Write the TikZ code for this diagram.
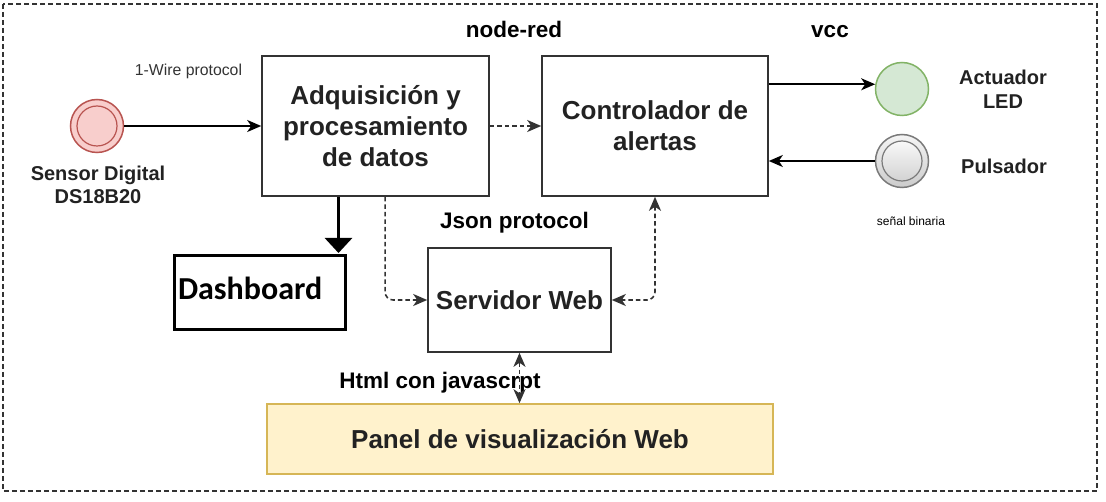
\documentclass[tikz,border=0pt]{standalone}
\usepackage{fontspec}
\setmainfont{Liberation Sans}
\newfontfamily\carlito{Carlito}
\usetikzlibrary{arrows.meta,calc,shapes.geometric}
\definecolor{boxtext}{HTML}{222222}
\definecolor{linec}{HTML}{333333}
\definecolor{redfill}{HTML}{F8CECC}
\definecolor{redline}{HTML}{B85450}
\definecolor{greenfill}{HTML}{D5E8D4}
\definecolor{greenline}{HTML}{82B366}
\definecolor{yelfill}{HTML}{FFF2CC}
\definecolor{yelline}{HTML}{D6B656}
\definecolor{grayline}{HTML}{7A7A7A}
\tikzset{
  procbox/.style={draw=linec, line width=1.6pt, fill=white, inner sep=0pt, align=center,
    text=boxtext, font=\fontsize{26}{31}\selectfont\bfseries},
  lbl/.style={inner sep=0pt, anchor=base, font=\fontsize{22.5}{26}\selectfont\bfseries, text=black},
  small/.style={inner sep=0pt, anchor=base, text=linec},
  side/.style={inner sep=0pt, align=center, text=boxtext, font=\fontsize{20}{22.5}\selectfont\bfseries},
  tip/.style={-{Stealth[length=14pt,width=12pt,inset=4pt]}},
  solidarrow/.style={line width=1.8pt, draw=black, tip},
  dasharrow/.style={line width=1.6pt, draw=linec, dash pattern=on 4.5pt off 3pt, tip},
  dashboth/.style={line width=1.6pt, draw=linec, dash pattern=on 4.5pt off 3pt,
    {Stealth[length=14pt,width=12pt,inset=4pt]}-{Stealth[length=14pt,width=12pt,inset=4pt]}},
  circ/.style={circle, minimum size=53pt, inner sep=0pt, line width=1.5pt}
}
\begin{document}
\begin{tikzpicture}[x=1pt,y=-1pt]
\useasboundingbox (0,0) rectangle (1106,502);
% outer frame
\draw[linec, line width=1.5pt, dash pattern=on 5pt off 3pt] (3,4) rectangle (1097,491);

% main boxes
\node[procbox, minimum width=227pt, minimum height=140pt] (adq) at (375.5,126)
  {Adquisición y\\procesamiento\\de datos};
\node[procbox, minimum width=226pt, minimum height=140pt] (ctrl) at (655,126)
  {Controlador de\\alertas};
\node[procbox, minimum width=183pt, minimum height=104pt] (srv) at (519.5,300)
  {Servidor Web};
\node[procbox, draw=yelline, fill=yelfill, minimum width=506pt, minimum height=70pt] (panel) at (520,439)
  {Panel de visualización Web};
\node[draw=black, line width=3pt, fill=white, minimum width=171pt, minimum height=74pt,
  inner xsep=4pt, inner ysep=0pt, text width=163pt, align=left, text height=22pt, text depth=8pt,
  font=\carlito\fontsize{32}{36}\selectfont\bfseries] (dash) at (259.5,293) {Dashboard};

% sensor
\node[circ, draw=redline, fill=redfill] (sen) at (97,126) {};
\node[circle, minimum size=40pt, inner sep=0pt, draw=redline, line width=1.2pt] (seninner) at (sen.center) {};
\node[side] (senlbl) at (98,184.75) {Sensor Digital\\DS18B20};

% actuador
\node[circ, draw=greenline, fill=greenfill] (act) at (902,89) {};
\node[side, font=\fontsize{20}{24}\selectfont\bfseries] (actlbl) at (1003,89.75) {Actuador\\LED};

% pulsador
\node[circ, draw=grayline, top color=gray!8, bottom color=gray!40] (pul) at (902,161) {};
\node[circle, minimum size=40pt, inner sep=0pt, draw=grayline, line width=1.2pt,
  top color=gray!5, bottom color=gray!35] (pulinner) at (pul.center) {};
\node[side, anchor=base] (pullbl) at (1004,174) {Pulsador};

% labels
\node[lbl] (nodered) at (514,38) {node-red};
\node[lbl] (vcc) at (830,38) {vcc};
\node[lbl] (json) at (514.5,229) {Json protocol};
\node[lbl] (html) at (440,389) {Html con javascrpt};
\node[small, font=\fontsize{15.8}{18}\selectfont] (wire) at (188.5,76) {1-Wire protocol};
\node[small, font=\fontsize{12}{14}\selectfont, text=black] (senal) at (911,226) {señal binaria};

% connectors
\draw[solidarrow] (sen.east) -- (adq.west);
\draw[dasharrow] (adq.east) -- (ctrl.west);
\draw[solidarrow] (ctrl.east |- act.170) -- (act.170);
\draw[solidarrow] (pul.west) -- (ctrl.east |- pul.west);
\coordinate (dtop) at ([xshift=-8pt]dash.north east);
\draw[line width=3pt, draw=black, -{Triangle[width=27pt,length=15pt]}] (dtop |- adq.south) -- ([yshift=1.5pt]dtop);
\draw[dasharrow, rounded corners=8pt] ($(adq.south west)!0.542!(adq.south east)$) |- (srv.west);
\draw[dashboth, rounded corners=8pt] (ctrl.south) |- (srv.east);
\draw[dashboth] (srv.south) -- (srv.south |- panel.north);
\end{tikzpicture}
\end{document}
